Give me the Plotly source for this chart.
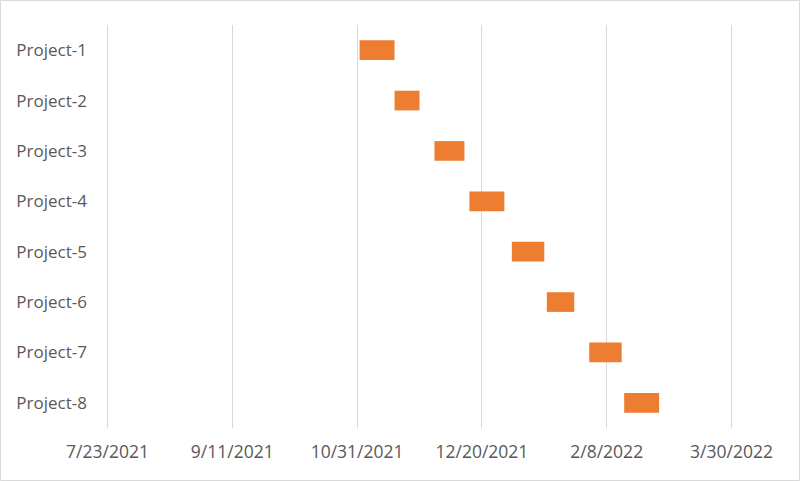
import plotly.graph_objects as go

projects = ["Project-1", "Project-2", "Project-3", "Project-4",
            "Project-5", "Project-6", "Project-7", "Project-8"]
start_dates = ["2021-11-01", "2021-11-15", "2021-12-01", "2021-12-15",
               "2022-01-01", "2022-01-15", "2022-02-01", "2022-02-15"]
durations_days = [14, 10, 12, 14, 13, 11, 13, 14]
tick_dates = ["2021-07-23", "2021-09-11", "2021-10-31",
              "2021-12-20", "2022-02-08", "2022-03-30"]
tick_labels = ["7/23/2021", "9/11/2021", "10/31/2021",
               "12/20/2021", "2/8/2022", "3/30/2022"]
axis_range = ["2021-07-22", "2022-03-31"]

ms_per_day = 86400000
fig = go.Figure()
fig.add_trace(go.Bar(
    y=projects,
    x=[d * ms_per_day for d in durations_days],
    base=start_dates,
    orientation="h",
    width=0.39,
    marker=dict(color="#ED7D31", line=dict(width=0)),
    hoverinfo="skip",
))

L, R, T, B = 105, 66, 25, 53
W, H = 800, 481
pw, ph = W - L - R, H - T - B

fig.update_layout(
    width=W, height=H,
    margin=dict(l=L, r=R, t=T, b=B),
    paper_bgcolor="white", plot_bgcolor="white",
    showlegend=False,
    font=dict(family="Open Sans", size=17.5, color="#595959"),
    xaxis=dict(
        type="date",
        range=axis_range,
        tickvals=tick_dates, ticktext=tick_labels,
        showgrid=True, gridcolor="#d9d9d9", gridwidth=1,
        zeroline=False, showline=False, ticks="",
        ticklabelstandoff=11,
        tickfont=dict(size=17.5, color="#595959"),
    ),
    yaxis=dict(
        type="category", autorange="reversed",
        showgrid=False, zeroline=False, showline=False, ticks="",
        ticklabelstandoff=17,
        tickfont=dict(size=17, color="#595959"),
    ),
    shapes=[dict(
        type="rect", xref="paper", yref="paper",
        x0=(0.5 - L) / pw, x1=(W - 0.5 - L) / pw,
        y0=(H - B - (H - 0.5)) / ph, y1=(H - B - 0.5) / ph,
        line=dict(color="#d9d9d9", width=1), fillcolor="rgba(0,0,0,0)",
        layer="below",
    )],
)

fig.write_html("out.html",
               config={"displayModeBar": False},
               post_script="document.body.style.margin='0';document.body.style.padding='0';")
